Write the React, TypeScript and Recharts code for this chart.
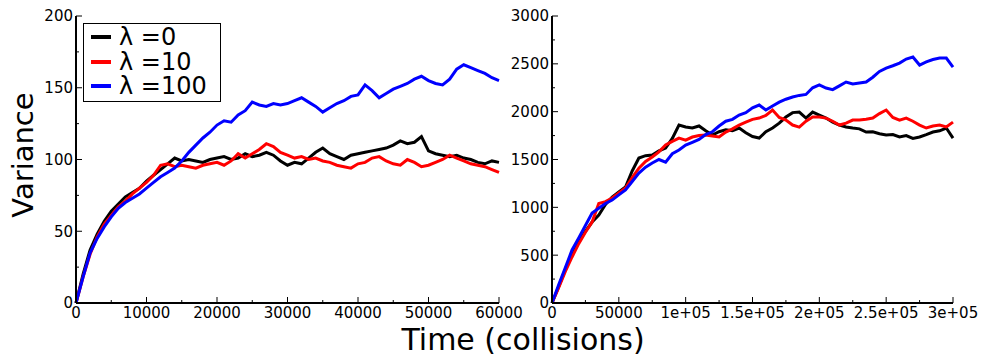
import { LineChart, Line, XAxis, YAxis } from 'recharts'

// left panel: time in thousands of collisions, step 1000
const leftTimeK = [
  0, 1, 2, 3, 4, 5, 6, 7, 8, 9, 10, 11, 12, 13, 14, 15, 16, 17, 18, 19, 20,
  21, 22, 23, 24, 25, 26, 27, 28, 29, 30, 31, 32, 33, 34, 35, 36, 37, 38, 39, 40,
  41, 42, 43, 44, 45, 46, 47, 48, 49, 50, 51, 52, 53, 54, 55, 56, 57, 58, 59, 60,
]
const leftLambda0 = [
  0, 20, 37, 48, 57, 64, 69, 74, 77, 80, 85, 89, 93, 97, 101, 99, 100, 99, 98, 100, 101,
  102, 100, 101, 104, 102, 103, 105, 103, 99, 96, 98, 97, 101, 105, 108, 104, 102, 100, 103, 104,
  105, 106, 107, 108, 110, 113, 111, 112, 116, 106, 104, 103, 102, 103, 101, 100, 98, 97, 99, 98,
]
const leftLambda10 = [
  0, 18, 34, 46, 55, 61, 67, 71, 76, 80, 84, 89, 96, 97, 95, 96, 95, 94, 96, 97, 98,
  96, 99, 104, 101, 104, 107, 111, 109, 105, 103, 101, 102, 100, 101, 99, 98, 96, 95, 94, 97,
  98, 101, 102, 99, 97, 96, 100, 98, 95, 96, 98, 100, 103, 101, 99, 97, 96, 95, 93, 91,
]
const leftLambda100 = [
  0, 18, 35, 45, 53, 60, 66, 70, 73, 76, 80, 84, 88, 91, 94, 99, 105, 110, 115, 119, 124,
  127, 126, 131, 134, 140, 138, 137, 139, 138, 139, 141, 143, 140, 137, 133, 136, 139, 141, 144, 145,
  152, 148, 143, 146, 149, 151, 153, 156, 158, 155, 153, 152, 156, 163, 166, 164, 162, 160, 157, 155,
]

// right panel: time in thousands of collisions, step 5000
const rightTimeK = [
  0, 5, 10, 15, 20, 25, 30, 35, 40, 45, 50, 55, 60, 65, 70, 75, 80, 85, 90, 95, 100,
  105, 110, 115, 120, 125, 130, 135, 140, 145, 150, 155, 160, 165, 170, 175, 180, 185, 190, 195, 200,
  205, 210, 215, 220, 225, 230, 235, 240, 245, 250, 255, 260, 265, 270, 275, 280, 285, 290, 295, 300,
]
const rightLambda0 = [
  0, 170, 350, 522, 640, 750, 846, 920, 1030, 1108, 1160, 1212, 1380, 1515, 1540, 1547, 1590, 1620, 1720, 1860, 1840,
  1829, 1850, 1800, 1756, 1790, 1810, 1800, 1829, 1780, 1740, 1724, 1790, 1829, 1880, 1944, 1990, 1996, 1933, 1996, 1965,
  1933, 1891, 1860, 1840, 1829, 1820, 1787, 1790, 1770, 1756, 1760, 1735, 1750, 1720, 1735, 1760, 1787, 1800, 1829, 1724,
]
const rightLambda10 = [
  0, 160, 330, 481, 620, 740, 846, 1040, 1060, 1097, 1150, 1202, 1310, 1410, 1480, 1526, 1580, 1651, 1690, 1724, 1703,
  1735, 1750, 1756, 1745, 1735, 1787, 1820, 1860, 1890, 1920, 1933, 1960, 2017, 1940, 1912, 1860, 1839, 1900, 1944, 1944,
  1933, 1900, 1860, 1880, 1912, 1912, 1920, 1933, 1980, 2017, 1940, 1912, 1933, 1900, 1860, 1829, 1850, 1860, 1840, 1891,
]
const rightLambda100 = [
  0, 190, 370, 554, 680, 810, 940, 990, 1040, 1076, 1130, 1181, 1270, 1358, 1420, 1463, 1500, 1473, 1560, 1599, 1650,
  1680, 1710, 1760, 1790, 1850, 1900, 1920, 1965, 1990, 2040, 2069, 2017, 2060, 2100, 2130, 2153, 2170, 2180, 2250, 2280,
  2247, 2230, 2270, 2310, 2290, 2300, 2310, 2360, 2420, 2456, 2480, 2508, 2550, 2571, 2487, 2520, 2545, 2560, 2560, 2466,
]

const leftXMajor = [0, 10000, 20000, 30000, 40000, 50000, 60000]
const leftXLabels = ['0', '10000', '20000', '30000', '40000', '50000', '60000']
const leftXTicks = [0, 5000, 10000, 15000, 20000, 25000, 30000, 35000, 40000, 45000, 50000, 55000, 60000]
const leftYMajor = [0, 50, 100, 150, 200]
const leftYLabels = ['0', '50', '100', '150', '200']
const leftYTicks = [0, 25, 50, 75, 100, 125, 150, 175, 200]

const rightXMajor = [0, 50000, 100000, 150000, 200000, 250000, 300000]
const rightXLabels = ['0', '50000', '1e+05', '1.5e+05', '2e+05', '2.5e+05', '3e+05']
const rightXTicks = [0, 25000, 50000, 75000, 100000, 125000, 150000, 175000, 200000, 225000, 250000, 275000, 300000]
const rightYMajor = [0, 500, 1000, 1500, 2000, 2500, 3000]
const rightYLabels = ['0', '500', '1000', '1500', '2000', '2500', '3000']
const rightYTicks = [0, 250, 500, 750, 1000, 1250, 1500, 1750, 2000, 2250, 2500, 2750, 3000]

const legendLabels = ['λ =0', 'λ =10', 'λ =100']
const COLORS = ['#000000', '#ff0000', '#0000ff']
const FONT = '"DejaVu Sans", sans-serif'

const leftData = leftTimeK.map((t, i) => ({
  t: t * 1000,
  a: leftLambda0[i],
  b: leftLambda10[i],
  c: leftLambda100[i],
}))
const rightData = rightTimeK.map((t, i) => ({
  t: t * 1000,
  a: rightLambda0[i],
  b: rightLambda10[i],
  c: rightLambda100[i],
}))

function labelFor(v: number, major: number[], labels: string[]) {
  const i = major.indexOf(v)
  return i < 0 ? null : labels[i]
}

// inward ticks, matplotlib style; labels only on major ticks
function makeTick(side: 'bottom' | 'top' | 'left' | 'right', major: number[], labels: string[]) {
  return (props: any) => {
    const { x, y, payload } = props
    const label = labelFor(payload.value, major, labels)
    const len = label !== null ? 6 : 3
    let line
    if (side === 'bottom') line = <line x1={x} x2={x} y1={y} y2={y - len} />
    else if (side === 'top') line = <line x1={x} x2={x} y1={y} y2={y + len} />
    else if (side === 'left') line = <line x1={x} x2={x + len} y1={y} y2={y} />
    else line = <line x1={x} x2={x - len} y1={y} y2={y} />
    return (
      <g stroke="#000" strokeWidth={1}>
        {line}
        {side === 'bottom' && label !== null && (
          <text x={x} y={y + 15} textAnchor="middle" stroke="none" fill="#000" fontSize={15} fontFamily={FONT}>
            {label}
          </text>
        )}
        {side === 'left' && label !== null && (
          <text x={x - 3} y={y} dy="0.36em" textAnchor="end" stroke="none" fill="#000" fontSize={15} fontFamily={FONT}>
            {label}
          </text>
        )}
      </g>
    )
  }
}

interface PanelProps {
  data: any[]
  width: number
  margin: { top: number; right: number; bottom: number; left: number }
  yWidth: number
  xDomain: [number, number]
  yDomain: [number, number]
  xTicks: number[]
  yTicks: number[]
  xMajor: number[]
  xLabels: string[]
  yMajor: number[]
  yLabels: string[]
}

function Panel(p: PanelProps) {
  const axisLine = { stroke: '#000', strokeWidth: 2 }
  return (
    <LineChart width={p.width} height={356} data={p.data} margin={p.margin}>
      <XAxis
        dataKey="t"
        type="number"
        domain={p.xDomain}
        ticks={p.xTicks}
        interval={0}
        height={53}
        tickSize={0}
        tickMargin={0}
        tickLine={false}
        axisLine={axisLine}
        tick={makeTick('bottom', p.xMajor, p.xLabels)}
      />
      <XAxis
        xAxisId="top"
        orientation="top"
        dataKey="t"
        type="number"
        domain={p.xDomain}
        ticks={p.xTicks}
        interval={0}
        height={0}
        tickSize={0}
        tickMargin={0}
        tickLine={false}
        axisLine={axisLine}
        tick={makeTick('top', p.xMajor, p.xLabels)}
      />
      <YAxis
        type="number"
        domain={p.yDomain}
        ticks={p.yTicks}
        interval={0}
        width={p.yWidth}
        tickSize={0}
        tickMargin={0}
        tickLine={false}
        axisLine={axisLine}
        tick={makeTick('left', p.yMajor, p.yLabels)}
      />
      <YAxis
        yAxisId="right"
        orientation="right"
        type="number"
        domain={p.yDomain}
        ticks={p.yTicks}
        interval={0}
        width={0}
        tickSize={0}
        tickMargin={0}
        tickLine={false}
        axisLine={axisLine}
        tick={makeTick('right', p.yMajor, p.yLabels)}
      />
      <Line dataKey="a" stroke={COLORS[0]} strokeWidth={3} dot={false} isAnimationActive={false} />
      <Line dataKey="b" stroke={COLORS[1]} strokeWidth={3} dot={false} isAnimationActive={false} />
      <Line dataKey="c" stroke={COLORS[2]} strokeWidth={3} dot={false} isAnimationActive={false} />
    </LineChart>
  )
}

export default function App() {
  return (
    <div style={{ position: 'relative', width: 982, height: 356, background: '#fff', fontFamily: FONT, overflow: 'hidden' }}>
      <style>{'body{margin:0}'}</style>
      <div style={{ position: 'absolute', left: 0, top: 0 }}>
        <Panel
          data={leftData}
          width={540}
          margin={{ top: 16, right: 41, bottom: 0, left: 0 }}
          yWidth={76}
          xDomain={[0, 60000]}
          yDomain={[0, 200]}
          xTicks={leftXTicks}
          yTicks={leftYTicks}
          xMajor={leftXMajor}
          xLabels={leftXLabels}
          yMajor={leftYMajor}
          yLabels={leftYLabels}
        />
      </div>
      <div style={{ position: 'absolute', left: 480, top: 0 }}>
        <Panel
          data={rightData}
          width={502}
          margin={{ top: 16, right: 29, bottom: 0, left: 0 }}
          yWidth={72}
          xDomain={[0, 300000]}
          yDomain={[0, 3000]}
          xTicks={rightXTicks}
          yTicks={rightYTicks}
          xMajor={rightXMajor}
          xLabels={rightXLabels}
          yMajor={rightYMajor}
          yLabels={rightYLabels}
        />
      </div>

      {/* legend */}
      <div
        style={{
          position: 'absolute',
          left: 83,
          top: 23,
          width: 136,
          height: 77,
          border: '1px solid #000',
          background: '#fff',
        }}
      >
        {legendLabels.map((l, i) => (
          <div key={l} style={{ position: 'absolute', left: 0, top: 3 + i * 24.5, height: 20, display: 'flex', alignItems: 'center' }}>
            <span style={{ display: 'inline-block', marginLeft: 7, width: 20, height: 4, background: COLORS[i] }} />
            <span style={{ marginLeft: 8, fontSize: 24, lineHeight: '20px', color: '#000' }}>{l}</span>
          </div>
        ))}
      </div>

      {/* axis titles */}
      <div
        style={{
          position: 'absolute',
          left: 23,
          top: 155,
          transform: 'translate(-50%, -50%) rotate(-90deg)',
          fontSize: 29,
          whiteSpace: 'nowrap',
          color: '#000',
        }}
      >
        Variance
      </div>
      <div
        style={{
          position: 'absolute',
          left: 523,
          top: 339,
          transform: 'translate(-50%, -50%)',
          fontSize: 30,
          whiteSpace: 'nowrap',
          color: '#000',
        }}
      >
        Time (collisions)
      </div>
    </div>
  )
}
